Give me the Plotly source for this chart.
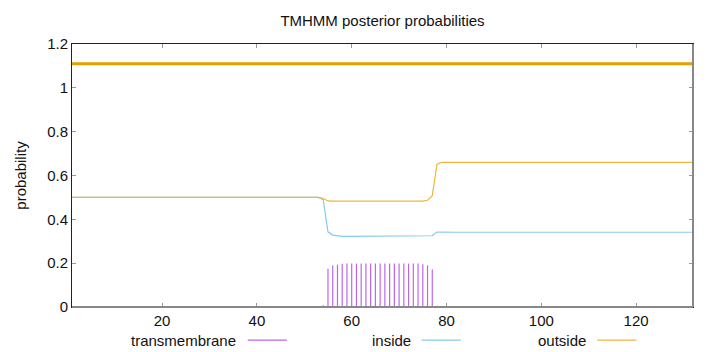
import plotly.graph_objects as go

# ---- data ----
positions = list(range(1, 133))

inside = ([0.50] * 53 + [0.49, 0.343, 0.328, 0.324] + [0.322] * 19 +
          [0.325, 0.342] + [0.341] * 54)
outside = ([0.50] * 53 + [0.495, 0.484] + [0.483] * 20 +
           [0.487, 0.508, 0.652] + [0.66] * 54)
transmembrane = ([0.0] * 52 + [0.002, 0.008, 0.175, 0.189, 0.193, 0.197] +
                 [0.198] * 16 + [0.195, 0.19, 0.172, 0.006, 0.003] + [0.0] * 53)
topology_level = 1.11  # predicted topology line (outside over whole sequence)

x_ticks = [20, 40, 60, 80, 100, 120]
y_ticks = [0, 0.2, 0.4, 0.6, 0.8, 1.0, 1.2]

C_TM = "#bd66ec"
C_IN = "#86cbee"
C_OUT = "#efb63c"
C_TOPO = "#e69f00"
FONT = "Liberation Sans, Arial, sans-serif"
FS = 15

# impulses built from the transmembrane series
imp_x, imp_y = [], []
for p, v in zip(positions, transmembrane):
    if v > 0:
        imp_x += [p, p, None]
        imp_y += [0, v, None]

fig = go.Figure()
fig.add_trace(go.Scatter(x=imp_x, y=imp_y, mode="lines",
                         line=dict(color=C_TM, width=1.2), showlegend=False))
fig.add_trace(go.Scatter(x=positions, y=inside, mode="lines",
                         line=dict(color=C_IN, width=1.2), showlegend=False))
fig.add_trace(go.Scatter(x=positions, y=outside, mode="lines",
                         line=dict(color=C_OUT, width=1.2), showlegend=False))
fig.add_trace(go.Scatter(x=[positions[0], positions[-1]],
                         y=[topology_level, topology_level], mode="lines",
                         line=dict(color=C_TOPO, width=3), showlegend=False))

axis_common = dict(showgrid=False, zeroline=False, showline=True,
                   linecolor="#222222", linewidth=1, mirror="ticks",
                   ticks="inside", ticklen=4, tickcolor="#999999",
                   tickfont=dict(family=FONT, size=FS, color="#111111"))

fig.update_xaxes(range=[1, 132], tickvals=x_ticks, **axis_common)
fig.update_yaxes(range=[0, 1.2], tickvals=y_ticks,
                 ticktext=[f"{v:g}" for v in y_ticks],
                 title=dict(text="probability", standoff=16,
                            font=dict(family=FONT, size=FS, color="#111111")),
                 **axis_common)

# gray heavy bottom/right edges as in reference
fig.add_shape(type="line", xref="paper", yref="paper", x0=0, x1=1, y0=0, y1=0,
              line=dict(color="#888888", width=2))
fig.add_shape(type="line", xref="paper", yref="paper", x0=1, x1=1, y0=0, y1=1,
              line=dict(color="#888888", width=2))

# gnuplot-style legend at bottom: text then line sample
legend_items = [("transmembrane", C_TM, 0.2676, 0.283, 0.346),
                ("inside", C_IN, 0.549, 0.563, 0.626),
                ("outside", C_OUT, 0.831, 0.846, 0.909)]
ly = -0.126
for name, col, tx, l0, l1 in legend_items:
    fig.add_annotation(text=name, x=tx, y=ly, xref="paper", yref="paper",
                       xanchor="right", yanchor="middle", showarrow=False,
                       font=dict(family=FONT, size=FS, color="#111111"))
    fig.add_shape(type="line", xref="paper", yref="paper", x0=l0, x1=l1,
                  y0=ly, y1=ly, line=dict(color=col, width=1.2))

fig.update_layout(
    width=720, height=352,
    margin=dict(l=72, r=27, t=44, b=45),
    paper_bgcolor="white", plot_bgcolor="white",
    title=dict(text="TMHMM posterior probabilities", x=0.5, xref="paper",
               xanchor="center", y=1 - 21 / 352, yanchor="middle",
               font=dict(family=FONT, size=FS, color="#111111")),
    showlegend=False,
)

fig.write_html("out.html")
